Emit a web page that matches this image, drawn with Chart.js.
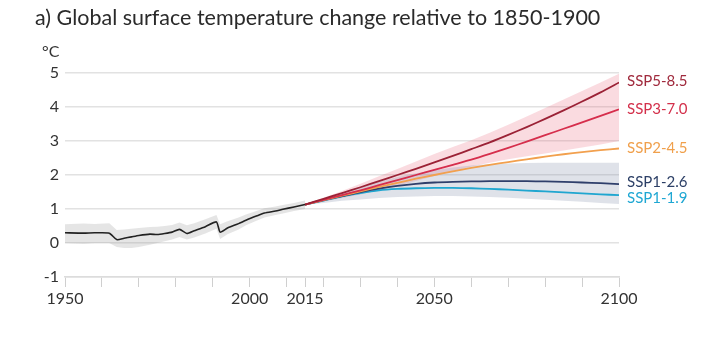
<!DOCTYPE html>
<html>
<head>
<meta charset="utf-8">
<script src="https://cdn.jsdelivr.net/npm/chart.js@4.4.1/dist/chart.umd.min.js"></script>
<style>
  html, body { margin: 0; padding: 0; background: #fff; }
  #wrap { width: 712px; height: 340px; }
</style>
</head>
<body>
<div id="wrap"><canvas id="chart" width="712" height="340"></canvas></div>
<script>
// ===== データ =====
const titleText = "a) Global surface temperature change relative to 1850-1900";
const unitText = "°C";

// 観測（1950-2015）
const histYears = [1950, 1955, 1958, 1962, 1964, 1966, 1968, 1970, 1973, 1975, 1977, 1979, 1981, 1983, 1985, 1988, 1991, 1992, 1994, 1997, 1999, 2002, 2004, 2007, 2009, 2012, 2015];
const histTemp  = [0.30, 0.29, 0.30, 0.29, 0.10, 0.14, 0.18, 0.22, 0.26, 0.25, 0.28, 0.32, 0.40, 0.28, 0.36, 0.48, 0.62, 0.32, 0.44, 0.57, 0.67, 0.80, 0.88, 0.94, 0.99, 1.06, 1.13];
const histHigh  = [0.55, 0.57, 0.56, 0.58, 0.38, 0.40, 0.42, 0.44, 0.47, 0.48, 0.50, 0.53, 0.60, 0.52, 0.58, 0.70, 0.82, 0.55, 0.64, 0.75, 0.84, 0.95, 1.02, 1.07, 1.12, 1.18, 1.25];
const histLow   = [0.00, -0.02, 0.00, 0.00, -0.12, -0.15, -0.15, -0.12, -0.05, 0.00, 0.05, 0.10, 0.18, 0.10, 0.16, 0.28, 0.42, 0.12, 0.26, 0.40, 0.52, 0.66, 0.75, 0.82, 0.87, 0.94, 1.00];

// シナリオ（2015-2100）
const projYears = [2015, 2020, 2025, 2030, 2035, 2040, 2045, 2050, 2055, 2060, 2065, 2070, 2075, 2080, 2085, 2090, 2095, 2100];
const ssp585 = [1.13, 1.30, 1.47, 1.64, 1.82, 2.00, 2.18, 2.37, 2.56, 2.76, 2.96, 3.18, 3.41, 3.65, 3.90, 4.16, 4.43, 4.72];
const ssp370 = [1.13, 1.27, 1.41, 1.55, 1.70, 1.85, 2.00, 2.15, 2.30, 2.45, 2.62, 2.80, 2.98, 3.17, 3.36, 3.55, 3.74, 3.93];
const ssp245 = [1.13, 1.26, 1.39, 1.52, 1.65, 1.77, 1.89, 2.00, 2.11, 2.21, 2.30, 2.38, 2.46, 2.54, 2.61, 2.67, 2.73, 2.78];
const ssp126 = [1.13, 1.26, 1.38, 1.50, 1.60, 1.68, 1.74, 1.78, 1.80, 1.81, 1.82, 1.82, 1.82, 1.81, 1.80, 1.78, 1.76, 1.73];
const ssp119 = [1.13, 1.25, 1.37, 1.47, 1.55, 1.59, 1.61, 1.62, 1.62, 1.61, 1.59, 1.57, 1.54, 1.52, 1.49, 1.46, 1.43, 1.41];

// 幅（SSP3-7.0 と SSP1-2.6）
const redHigh  = [1.13, 1.33, 1.53, 1.74, 1.96, 2.18, 2.40, 2.62, 2.82, 3.02, 3.24, 3.48, 3.72, 3.97, 4.22, 4.47, 4.72, 4.98];
const redLow   = [1.13, 1.22, 1.32, 1.43, 1.55, 1.68, 1.82, 1.97, 2.12, 2.25, 2.36, 2.46, 2.55, 2.63, 2.72, 2.81, 2.90, 3.00];
const greyHigh = [1.13, 1.30, 1.47, 1.64, 1.80, 1.94, 2.05, 2.14, 2.22, 2.28, 2.32, 2.34, 2.35, 2.36, 2.36, 2.36, 2.36, 2.36];
const greyLow  = [1.13, 1.18, 1.24, 1.28, 1.32, 1.35, 1.37, 1.38, 1.38, 1.37, 1.35, 1.33, 1.30, 1.27, 1.24, 1.21, 1.18, 1.15];

const tickYears  = [1950, 1960, 1970, 1980, 1990, 2000, 2010, 2015, 2020, 2030, 2040, 2050, 2060, 2070, 2080, 2090, 2100];
const labelYears = [1950, 2000, 2015, 2050, 2100];
const yTicks = [-1, 0, 1, 2, 3, 4, 5];

const scenarios = [
  { name: "SSP5-8.5", data: ssp585, line: "#9b2236", text: "#a02a3d", dy: -1 },
  { name: "SSP3-7.0", data: ssp370, line: "#d62e4c", text: "#d3304b", dy: 0 },
  { name: "SSP2-4.5", data: ssp245, line: "#f2a04e", text: "#f0a04c", dy: 0 },
  { name: "SSP1-2.6", data: ssp126, line: "#2f3f6b", text: "#2c3f66", dy: -2 },
  { name: "SSP1-1.9", data: ssp119, line: "#1fa6d0", text: "#1fa7d3", dy: 3 }
];

const pts = (xs, ys) => xs.map((x, i) => ({ x, y: ys[i] }));
const FONT = "Lato, 'Open Sans', sans-serif";

/* ===== テキスト描画プラグイン ===== */
const textPlugin = {
  id: 'textLabels',
  afterDraw(chart) {
    const ctx = chart.ctx;
    const area = chart.chartArea;
    const ys = chart.scales.y;
    ctx.save();
    ctx.textBaseline = 'middle';
    ctx.textAlign = 'left';
    // タイトル
    ctx.fillStyle = '#2a2a2a';
    ctx.font = `21.5px ${FONT}`;
    ctx.fillText(titleText, 35, 18);
    // 単位
    ctx.fillStyle = '#333';
    ctx.font = `16px ${FONT}`;
    ctx.fillText(unitText, 42, 52);
    // 右側ラベル
    ctx.font = `15px ${FONT}`;
    scenarios.forEach(s => {
      const y = ys.getPixelForValue(s.data[s.data.length - 1]) + s.dy;
      ctx.fillStyle = s.text;
      ctx.fillText(s.name, area.right + 8, y);
    });
    ctx.restore();
  }
};

const bandDs = (label, data, color, fill) => ({
  label, data, fill, backgroundColor: color,
  borderWidth: 0, pointRadius: 0, tension: 0
});

const lineDs = (label, data, color, width) => ({
  label, data, fill: false, borderColor: color,
  borderWidth: width, pointRadius: 0, tension: 0.2
});

const datasets = [
  bandDs('greyLow', pts(projYears, greyLow), 'transparent', false),
  bandDs('greyHigh', pts(projYears, greyHigh), 'rgba(120,132,165,0.24)', '-1'),
  bandDs('redLow', pts(projYears, redLow), 'transparent', false),
  bandDs('redHigh', pts(projYears, redHigh), 'rgba(230,90,115,0.22)', '-1'),
  bandDs('histLow', pts(histYears, histLow), 'transparent', false),
  bandDs('histHigh', pts(histYears, histHigh), 'rgba(150,150,150,0.25)', '-1'),
  lineDs('hist', pts(histYears, histTemp), '#222', 1.6)
];
scenarios.forEach(s => datasets.push(lineDs(s.name, pts(projYears, s.data), s.line, 1.8)));

new Chart(document.getElementById('chart'), {
  type: 'line',
  data: { datasets },
  options: {
    responsive: false,
    animation: false,
    layout: { padding: { left: 0, right: 93, top: 73, bottom: 0 } },
    plugins: {
      legend: { display: false },
      tooltip: { enabled: false },
      filler: { drawTime: 'beforeDatasetsDraw' }
    },
    scales: {
      x: {
        type: 'linear', min: 1950, max: 2100,
        afterBuildTicks: scale => { scale.ticks = tickYears.map(v => ({ value: v })); },
        afterFit: scale => { scale.height = 63; },
        grid: { drawOnChartArea: false, drawTicks: true, tickLength: 10, color: '#cfcfcf', lineWidth: 1 },
        border: { display: true, color: '#dcdcdc', width: 1.5 },
        ticks: {
          autoSkip: false, maxRotation: 0, padding: 2,
          color: '#333', font: { family: FONT, size: 16 },
          callback: v => labelYears.includes(v) ? String(v) : ''
        }
      },
      y: {
        min: -1, max: 5,
        afterBuildTicks: scale => { scale.ticks = yTicks.map(v => ({ value: v })); },
        afterFit: scale => { scale.width = 65; },
        grid: { drawTicks: false, color: '#e2e2e2', lineWidth: 1.5 },
        border: { display: false },
        ticks: { padding: 6, color: '#333', font: { family: FONT, size: 16 } }
      }
    }
  },
  plugins: [textPlugin]
});
</script>
</body>
</html>
